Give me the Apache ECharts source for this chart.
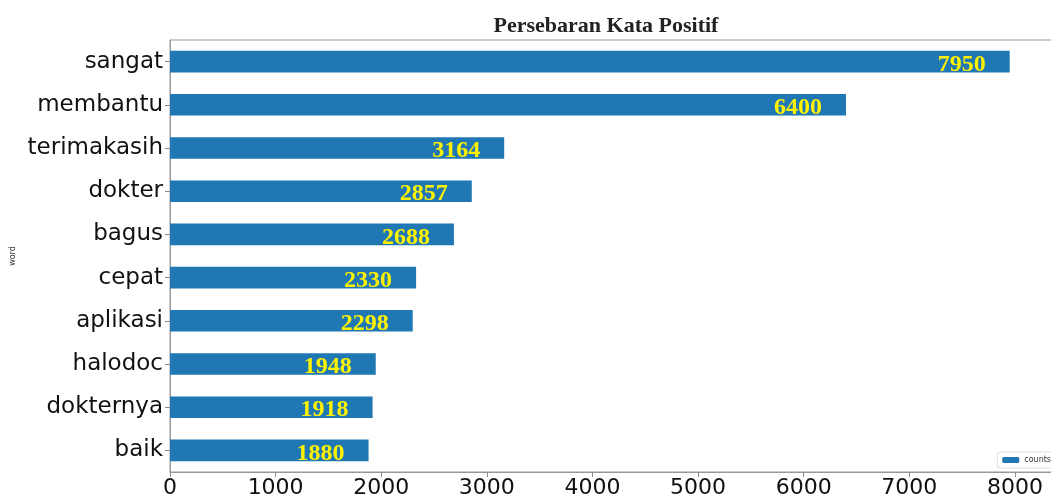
<!DOCTYPE html>
<html>
<head>
<meta charset="utf-8">
<script src="https://cdn.jsdelivr.net/npm/echarts@6/dist/echarts.min.js"></script>
<style>
  html, body { margin: 0; padding: 0; background: #fff; }
  #chart { width: 1051px; height: 500px; }
</style>
</head>
<body>
<div id="chart"></div>
<script>
// data, top to bottom
var words = ['sangat', 'membantu', 'terimakasih', 'dokter', 'bagus', 'cepat', 'aplikasi', 'halodoc', 'dokternya', 'baik'];
var counts = [7950, 6400, 3164, 2857, 2688, 2330, 2298, 1948, 1918, 1880];
var xTicks = [0, 1000, 2000, 3000, 4000, 5000, 6000, 7000, 8000];

var myChart = echarts.init(document.getElementById('chart'));

var option = {
    animation: false,
    title: {
        text: 'Persebaran Kata Positif',
        left: 601,
        textAlign: 'center',
        top: 10,
        textStyle: {
            fontFamily: 'Liberation Serif',
            fontWeight: 'bold',
            fontSize: 22,
            color: '#222'
        }
    },
    legend: {
        data: ['counts'],
        right: -6,
        bottom: 32,
        itemWidth: 17,
        itemHeight: 6,
        itemGap: 4,
        padding: [4, 6, 4, 5],
        borderColor: '#ddd',
        borderWidth: 1,
        borderRadius: 3,
        textStyle: { fontFamily: 'DejaVu Sans', fontSize: 8, color: '#333' }
    },
    grid: {
        left: 170,
        right: -2,
        top: 40,
        bottom: 28,
        outerBoundsMode: 'none',
        containLabel: false,
        show: true,
        borderColor: '#999',
        borderWidth: 1
    },
    xAxis: {
        type: 'value',
        min: 0,
        max: 8360,
        interval: 1000,
        splitLine: { show: false },
        axisLine: { show: true, lineStyle: { color: '#999' } },
        axisTick: { show: true, length: 5, lineStyle: { color: '#888' } },
        axisLabel: {
            margin: 5,
            fontFamily: 'DejaVu Sans',
            fontSize: 22,
            color: '#111',
            formatter: function (v) {
                return xTicks.indexOf(v) >= 0 ? String(v) : '';
            }
        }
    },
    yAxis: {
        type: 'category',
        data: words,
        inverse: true,
        name: 'word',
        nameLocation: 'middle',
        nameGap: 153,
        nameRotate: 90,
        nameTextStyle: { fontFamily: 'DejaVu Sans', fontSize: 8, color: '#333' },
        axisLine: { show: true, lineStyle: { color: '#999' } },
        axisTick: { show: true, alignWithLabel: true, length: 5, lineStyle: { color: '#888' } },
        axisLabel: {
            margin: 7,
            fontFamily: 'DejaVu Sans',
            fontSize: 23,
            color: '#111'
        }
    },
    series: [{
        name: 'counts',
        type: 'bar',
        data: counts,
        barWidth: '50%',
        itemStyle: { color: '#1f77b4' },
        label: {
            show: true,
            position: 'insideRight',
            distance: 24,
            offset: [0, 3],
            fontFamily: 'Liberation Serif',
            fontWeight: 'bold',
            fontSize: 24,
            color: '#fff200'
        }
    }]
};

myChart.setOption(option);
</script>
</body>
</html>
